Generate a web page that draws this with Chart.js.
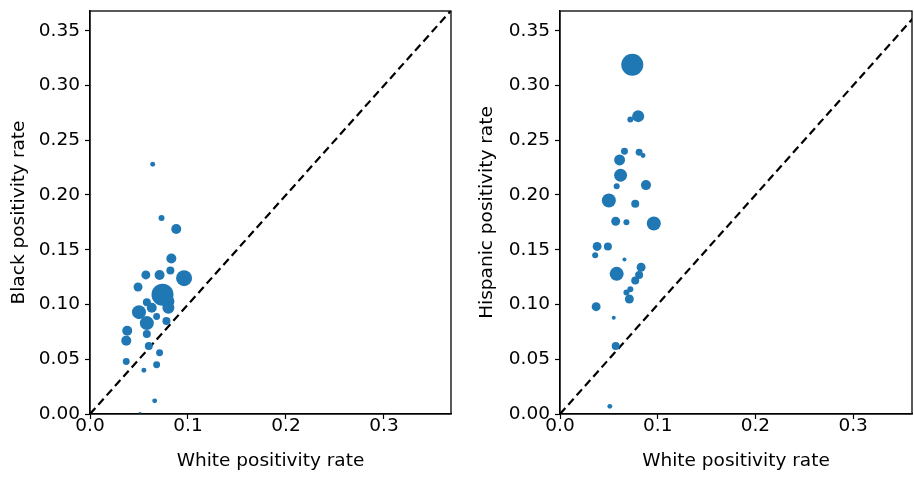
<!DOCTYPE html>
<html>
<head>
<meta charset="utf-8">
<script src="https://cdn.jsdelivr.net/npm/chart.js@4"></script>
<style>
  html, body { margin: 0; background: #fff; overflow: hidden; }
  #wrap { position: relative; width: 914px; height: 477px; overflow: hidden; }
  .box { position: absolute; top: 0; height: 477px; }
</style>
</head>
<body>
<div id="wrap">
  <div class="box" style="left:0;width:462px"><canvas id="blackChart"></canvas></div>
  <div class="box" style="left:460px;width:463px"><canvas id="hispChart"></canvas></div>
</div>
<script>
// county data
const leftWhite = [0.064, 0.073, 0.088, 0.083, 0.082, 0.096, 0.057, 0.071, 0.049, 0.074,
  0.080, 0.058, 0.063, 0.050, 0.058, 0.068, 0.080, 0.078, 0.038, 0.037,
  0.058, 0.060, 0.071, 0.037, 0.068, 0.055, 0.066, 0.051];
const blackRate = [0.228, 0.179, 0.169, 0.142, 0.131, 0.124, 0.127, 0.127, 0.116, 0.109,
  0.103, 0.102, 0.097, 0.093, 0.083, 0.089, 0.097, 0.085, 0.076, 0.067,
  0.073, 0.062, 0.056, 0.048, 0.045, 0.040, 0.012, 0.000];
const leftArea = [6, 9, 25, 25, 16, 64, 20, 25, 20, 121,
  36, 16, 25, 49, 49, 12, 36, 16, 25, 25,
  16, 16, 12, 12, 12, 6, 6, 4];

const rightWhite = [0.074, 0.080, 0.072, 0.066, 0.081, 0.085, 0.061, 0.062, 0.058, 0.088,
  0.050, 0.077, 0.057, 0.068, 0.096, 0.038, 0.049, 0.036, 0.066, 0.083,
  0.058, 0.081, 0.077, 0.072, 0.068, 0.071, 0.037, 0.055, 0.057, 0.051];
const hispanicRate = [0.319, 0.272, 0.269, 0.240, 0.239, 0.236, 0.232, 0.218, 0.208, 0.209,
  0.195, 0.192, 0.176, 0.175, 0.174, 0.153, 0.153, 0.145, 0.141, 0.134,
  0.128, 0.127, 0.122, 0.114, 0.111, 0.105, 0.098, 0.088, 0.062, 0.007];
const rightArea = [121, 36, 9, 12, 12, 6, 30, 42, 9, 25,
  49, 16, 20, 9, 49, 20, 16, 9, 4, 20,
  49, 16, 16, 9, 9, 20, 20, 4, 16, 6];

const diagonal = [0, 0.4];
const xTicks = [0, 0.1, 0.2, 0.3];
const yTicks = [0, 0.05, 0.1, 0.15, 0.2, 0.25, 0.3, 0.35];

const FONT = "'DejaVu Sans', sans-serif";
const FS = 18.5;
const BLUE = '#1f77b4';

// draw the full box around the plot area like matplotlib spines
const frame = {
  id: 'frame',
  afterDraw(chart) {
    const a = chart.chartArea, c = chart.ctx;
    c.save();
    c.strokeStyle = '#000';
    c.lineWidth = 1.3;
    c.strokeRect(a.left, a.top, a.right - a.left, a.bottom - a.top);
    c.restore();
  }
};

function makeChart(id, xs, ys, areas, yTitle, yWidth, xMax, titlePad) {
  const pts = xs.map((x, i) => ({ x: x, y: ys[i] }));
  new Chart(document.getElementById(id), {
    type: 'scatter',
    data: {
      datasets: [
        {
          data: pts,
          backgroundColor: BLUE,
          borderWidth: 0,
          pointRadius: areas.map(a => Math.sqrt(a)),
          pointHoverRadius: areas.map(a => Math.sqrt(a))
        },
        {
          type: 'line',
          data: diagonal.map(v => ({ x: v, y: v })),
          borderColor: '#000',
          borderWidth: 2.2,
          borderDash: [8, 4.5],
          pointRadius: 0,
          fill: false
        }
      ]
    },
    options: {
      responsive: true,
      maintainAspectRatio: false,
      animation: false,
      events: [],
      layout: { padding: { top: 11, right: 0, left: 0, bottom: 0 } },
      plugins: { legend: { display: false }, tooltip: { enabled: false } },
      scales: {
        x: {
          type: 'linear',
          min: 0,
          max: xMax,
          afterBuildTicks: s => { s.ticks = xTicks.map(v => ({ value: v })); },
          afterFit: s => { s.height = 63; s.paddingLeft = 0; s.paddingRight = 0; },
          grid: { drawOnChartArea: false, drawTicks: true, tickLength: 5, color: '#000', tickWidth: 1.2 },
          border: { color: '#000', width: 1.3 },
          ticks: { color: '#000', padding: -4, maxRotation: 0, font: { family: FONT, size: FS },
                   callback: v => v.toFixed(1) },
          title: { display: true, text: 'White positivity rate', color: '#000',
                   font: { family: FONT, size: FS }, padding: { top: 2, bottom: 5 } }
        },
        y: {
          type: 'linear',
          min: 0,
          max: 0.368,
          afterBuildTicks: s => { s.ticks = yTicks.map(v => ({ value: v })); },
          afterFit: s => { s.width = yWidth; s.paddingTop = 0; s.paddingBottom = 0; },
          grid: { drawOnChartArea: false, drawTicks: true, tickLength: 5, color: '#000', tickWidth: 1.2 },
          border: { color: '#000', width: 1.3 },
          ticks: { color: '#000', padding: 5, font: { family: FONT, size: FS },
                   callback: v => v.toFixed(2) },
          title: { display: true, text: yTitle, color: '#000',
                   font: { family: FONT, size: FS }, padding: { top: titlePad, bottom: 4 } }
        }
      }
    },
    plugins: [frame]
  });
}

makeChart('blackChart', leftWhite, blackRate, leftArea, 'Black positivity rate', 90, 0.3684, 8);
makeChart('hispChart', rightWhite, hispanicRate, rightArea, 'Hispanic positivity rate', 100, 0.3603, 16);
</script>
</body>
</html>
